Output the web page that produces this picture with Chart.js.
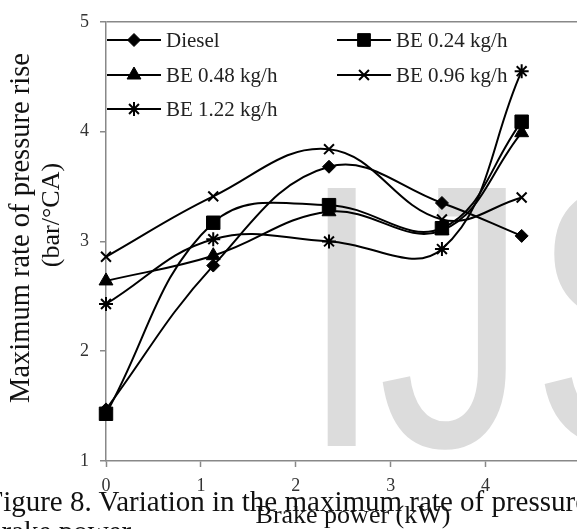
<!DOCTYPE html>
<html>
<head>
<meta charset="utf-8">
<script src="https://cdn.jsdelivr.net/npm/chart.js@4/dist/chart.umd.min.js"></script>
<style>
  html, body { margin: 0; padding: 0; background: #fff; overflow: hidden; }
  #wrap { position: relative; width: 577px; height: 529px; overflow: hidden; }
  .mark { position: absolute; top: 129px; font: 375px/1 "Liberation Sans", Arial, sans-serif;
          color: #dcdcdc; transform: scaleX(0.8); transform-origin: 0 0; white-space: nowrap; }
  #chart-canvas { position: absolute; left: 0; top: 0; }
  #caption { position: absolute; left: -13px; top: 486px; width: 660px;
             font: 29px/30px "Liberation Serif", "Times New Roman", serif; color: #111; white-space: nowrap; }
</style>
</head>
<body>
<div id="wrap">
  <span class="mark" style="left:300px">I</span>
  <span class="mark" style="left:378px">J</span>
  <span class="mark" style="left:531px">S</span>
  <canvas id="chart-canvas" width="593" height="529"></canvas>
  <div id="caption">Figure 8. Variation in the maximum rate of pressure rise with<br>brake power</div>
</div>
<script>
// Datos
const brakePower = [0, 1.13, 2.35, 3.54, 4.38];
const seriesNames = ["Diesel", "BE 0.24 kg/h", "BE 0.48 kg/h", "BE 0.96 kg/h", "BE 1.22 kg/h"];
const dieselRate = [1.47, 2.78, 3.68, 3.35, 3.05];
const be024Rate = [1.43, 3.17, 3.33, 3.12, 4.09];
const be048Rate = [2.64, 2.87, 3.27, 3.10, 3.99];
const be096Rate = [2.86, 3.41, 3.84, 3.20, 3.40];
const be122Rate = [2.43, 3.02, 3.00, 2.93, 4.55];
const yTicks = [1, 2, 3, 4, 5];
const xTicks = [0, 1, 2, 3, 4, 5];

const canvas = document.getElementById("chart-canvas");
const axisGray = "#888";
const serif = "'Liberation Serif', 'Times New Roman', serif";

// estilos de marcador por serie
const markers = [
    { pointStyle: "rectRot", pointRadius: 6.5, pointBorderWidth: 1 },
    { pointStyle: "rect", pointRadius: 9.5, pointBorderWidth: 1 },
    { pointStyle: "triangle", pointRadius: 8, pointBorderWidth: 1 },
    { pointStyle: "crossRot", pointRadius: 7, pointBorderWidth: 2 },
    { pointStyle: "star", pointRadius: 7, pointBorderWidth: 2 }
];

const values = [dieselRate, be024Rate, be048Rate, be096Rate, be122Rate];

const datasets = values.map((vals, i) => ({
    label: seriesNames[i],
    data: vals.map((v, j) => ({ x: brakePower[j], y: v })),
    borderColor: "#000",
    backgroundColor: "#000",
    pointBackgroundColor: "#000",
    pointBorderColor: "#000",
    borderWidth: 2,
    tension: 0.4,
    clip: false,
    ...markers[i]
}));

// leyenda en dos columnas dentro del area
const legendSlots = [[107, 40], [337, 40], [107, 75], [337, 75], [107, 109]];

const cornerLegend = {
    id: "cornerLegend",
    afterDatasetsDraw(chart) {
        const { ctx } = chart;
        ctx.save();
        chart.data.datasets.forEach((ds, i) => {
            const [x0, y] = legendSlots[i];
            ctx.strokeStyle = "#000";
            ctx.lineWidth = 2;
            ctx.beginPath();
            ctx.moveTo(x0, y);
            ctx.lineTo(x0 + 54, y);
            ctx.stroke();
            ctx.fillStyle = "#000";
            ctx.lineWidth = ds.pointBorderWidth;
            Chart.helpers.drawPoint(ctx, {
                pointStyle: ds.pointStyle,
                radius: ds.pointStyle === "rect" ? 9 : ds.pointRadius,
                borderWidth: ds.pointBorderWidth
            }, x0 + 27, y);
            ctx.font = "21px " + serif;
            ctx.textBaseline = "middle";
            ctx.textAlign = "left";
            ctx.fillStyle = "#222";
            ctx.fillText(ds.label, x0 + 59, y + 1);
        });
        ctx.restore();
    }
};

// titulos de ejes
const axisTitles = {
    id: "axisTitles",
    afterDraw(chart) {
        const { ctx } = chart;
        ctx.save();
        ctx.fillStyle = "#111";
        ctx.textAlign = "center";
        ctx.textBaseline = "middle";
        ctx.font = "26px " + serif;
        ctx.fillText("Brake power (kW)", 353, 516);
        ctx.translate(22, 228);
        ctx.rotate(-Math.PI / 2);
        ctx.font = "28.5px " + serif;
        ctx.fillText("Maximum rate of pressure rise", 0, 0);
        ctx.font = "26px " + serif;
        ctx.fillText("(bar/\u00B0CA)", 13, 30);
        ctx.restore();
    }
};

new Chart(canvas.getContext("2d"), {
    type: "line",
    data: { datasets },
    plugins: [cornerLegend, axisTitles],
    options: {
        responsive: false,
        animation: false,
        devicePixelRatio: 1,
        layout: { padding: { top: 17, right: 0, left: 0, bottom: 0 } },
        plugins: { legend: { display: false }, tooltip: { enabled: false } },
        scales: {
            x: {
                type: "linear",
                min: xTicks[0],
                max: xTicks[xTicks.length - 1],
                afterBuildTicks: s => { s.ticks = xTicks.map(v => ({ value: v })); },
                afterFit: s => { s.height = 68; },
                ticks: { font: { family: serif, size: 18 }, color: "#333", padding: 8, maxRotation: 0 },
                grid: { drawOnChartArea: false, tickLength: 6, tickColor: axisGray, tickWidth: 1.5 },
                border: { color: axisGray, width: 1.5 }
            },
            y: {
                min: yTicks[0],
                max: yTicks[yTicks.length - 1],
                afterBuildTicks: s => { s.ticks = yTicks.map(v => ({ value: v })); },
                afterFit: s => { s.width = 106; },
                ticks: { font: { family: serif, size: 18 }, color: "#333", padding: 11 },
                grid: {
                    color: c => (c.tick && c.tick.value === 5 ? axisGray : "rgba(0,0,0,0)"),
                    lineWidth: 1.5,
                    tickLength: 6,
                    tickColor: axisGray,
                    tickWidth: 1.5
                },
                border: { color: axisGray, width: 1.5 }
            }
        }
    }
});
</script>
</body>
</html>
